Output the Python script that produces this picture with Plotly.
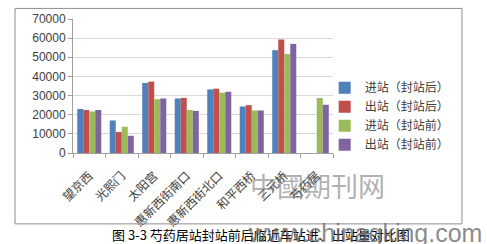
import plotly.graph_objects as go

categories = ["望京西", "光熙门", "太阳宫", "惠新西街南口", "惠新西街北口", "和平西桥", "三元桥", "芍药居"]
series_names = ["进站（封站后）", "出站（封站后）", "进站（封站前）", "出站（封站前）"]
in_after = [23000, 17000, 36600, 28500, 33200, 24300, 53700, None]
out_after = [22500, 11000, 37300, 28800, 33600, 25000, 59300, None]
in_before = [21700, 13700, 28100, 22500, 31500, 22200, 51700, 28700]
out_before = [22500, 9000, 28500, 22000, 32000, 22200, 57000, 25200]
colors = ["#4F81BD", "#C0504D", "#9BBB59", "#8064A2"]
y_ticks = [0, 10000, 20000, 30000, 40000, 50000, 60000, 70000]

fig = go.Figure()
for name, vals, col in zip(series_names, [in_after, out_after, in_before, out_before], colors):
    fig.add_trace(go.Bar(x=categories, y=vals, name=name, marker=dict(color=col, line=dict(width=0))))

fig.update_layout(
    width=487, height=244,
    margin=dict(l=73, r=154, t=13, b=91),
    paper_bgcolor="white", plot_bgcolor="white",
    barmode="group", bargap=0.26, bargroupgap=0,
    font=dict(family="Liberation Sans, Arial, sans-serif", size=12, color="#404040"),
    legend=dict(x=0.968, y=0.595, xanchor="left", yanchor="top",
                font=dict(family="Noto Sans CJK SC", size=12, color="#404040"),
                bgcolor="rgba(0,0,0,0)", tracegroupgap=0, itemwidth=30),
    xaxis=dict(type="category", tickangle=-45, tickson="boundaries", ticks="outside", ticklen=4,
               tickcolor="#A0A0A0", showline=True, linecolor="#A0A0A0", showgrid=False,
               ticklabelstandoff=10,
               tickfont=dict(family="Noto Sans CJK SC", size=12, color="#404040")),
    yaxis=dict(range=[0, 70000], tickvals=y_ticks, tickformat="d", ticks="outside", ticklen=4,
               tickcolor="#A0A0A0", showline=True, linecolor="#A0A0A0", gridcolor="#D9D9D9",
               zeroline=False, tickfont=dict(size=12, color="#404040")),
    shapes=[dict(type="rect", xref="paper", yref="paper", x0=-0.223, x1=1.496, y0=-0.529, y1=1.079,
                 line=dict(color="#8C8C8C", width=1))],
)

fig.add_annotation(text="图 3-3 芍药居站封站前后临近车站进、出站量对比图", xref="paper", yref="paper",
                   x=0.142, y=-0.61, xanchor="left", yanchor="middle", showarrow=False,
                   font=dict(family="Noto Sans CJK SC", size=13, color="#000000"))
fig.add_annotation(text="中國期刊网", xref="paper", yref="paper", x=0.942, y=-0.243,
                   xanchor="center", yanchor="middle", showarrow=False,
                   font=dict(family="Noto Sans CJK SC", size=27, color="rgba(110,110,110,0.55)"))
fig.add_annotation(text="www.chinaqking.com", xref="paper", yref="paper", x=1.123, y=-0.6,
                   xanchor="center", yanchor="middle", showarrow=False,
                   font=dict(family="Liberation Sans, Arial, sans-serif", size=25, color="rgba(100,100,100,0.75)"))

fig.write_html("out.html")
